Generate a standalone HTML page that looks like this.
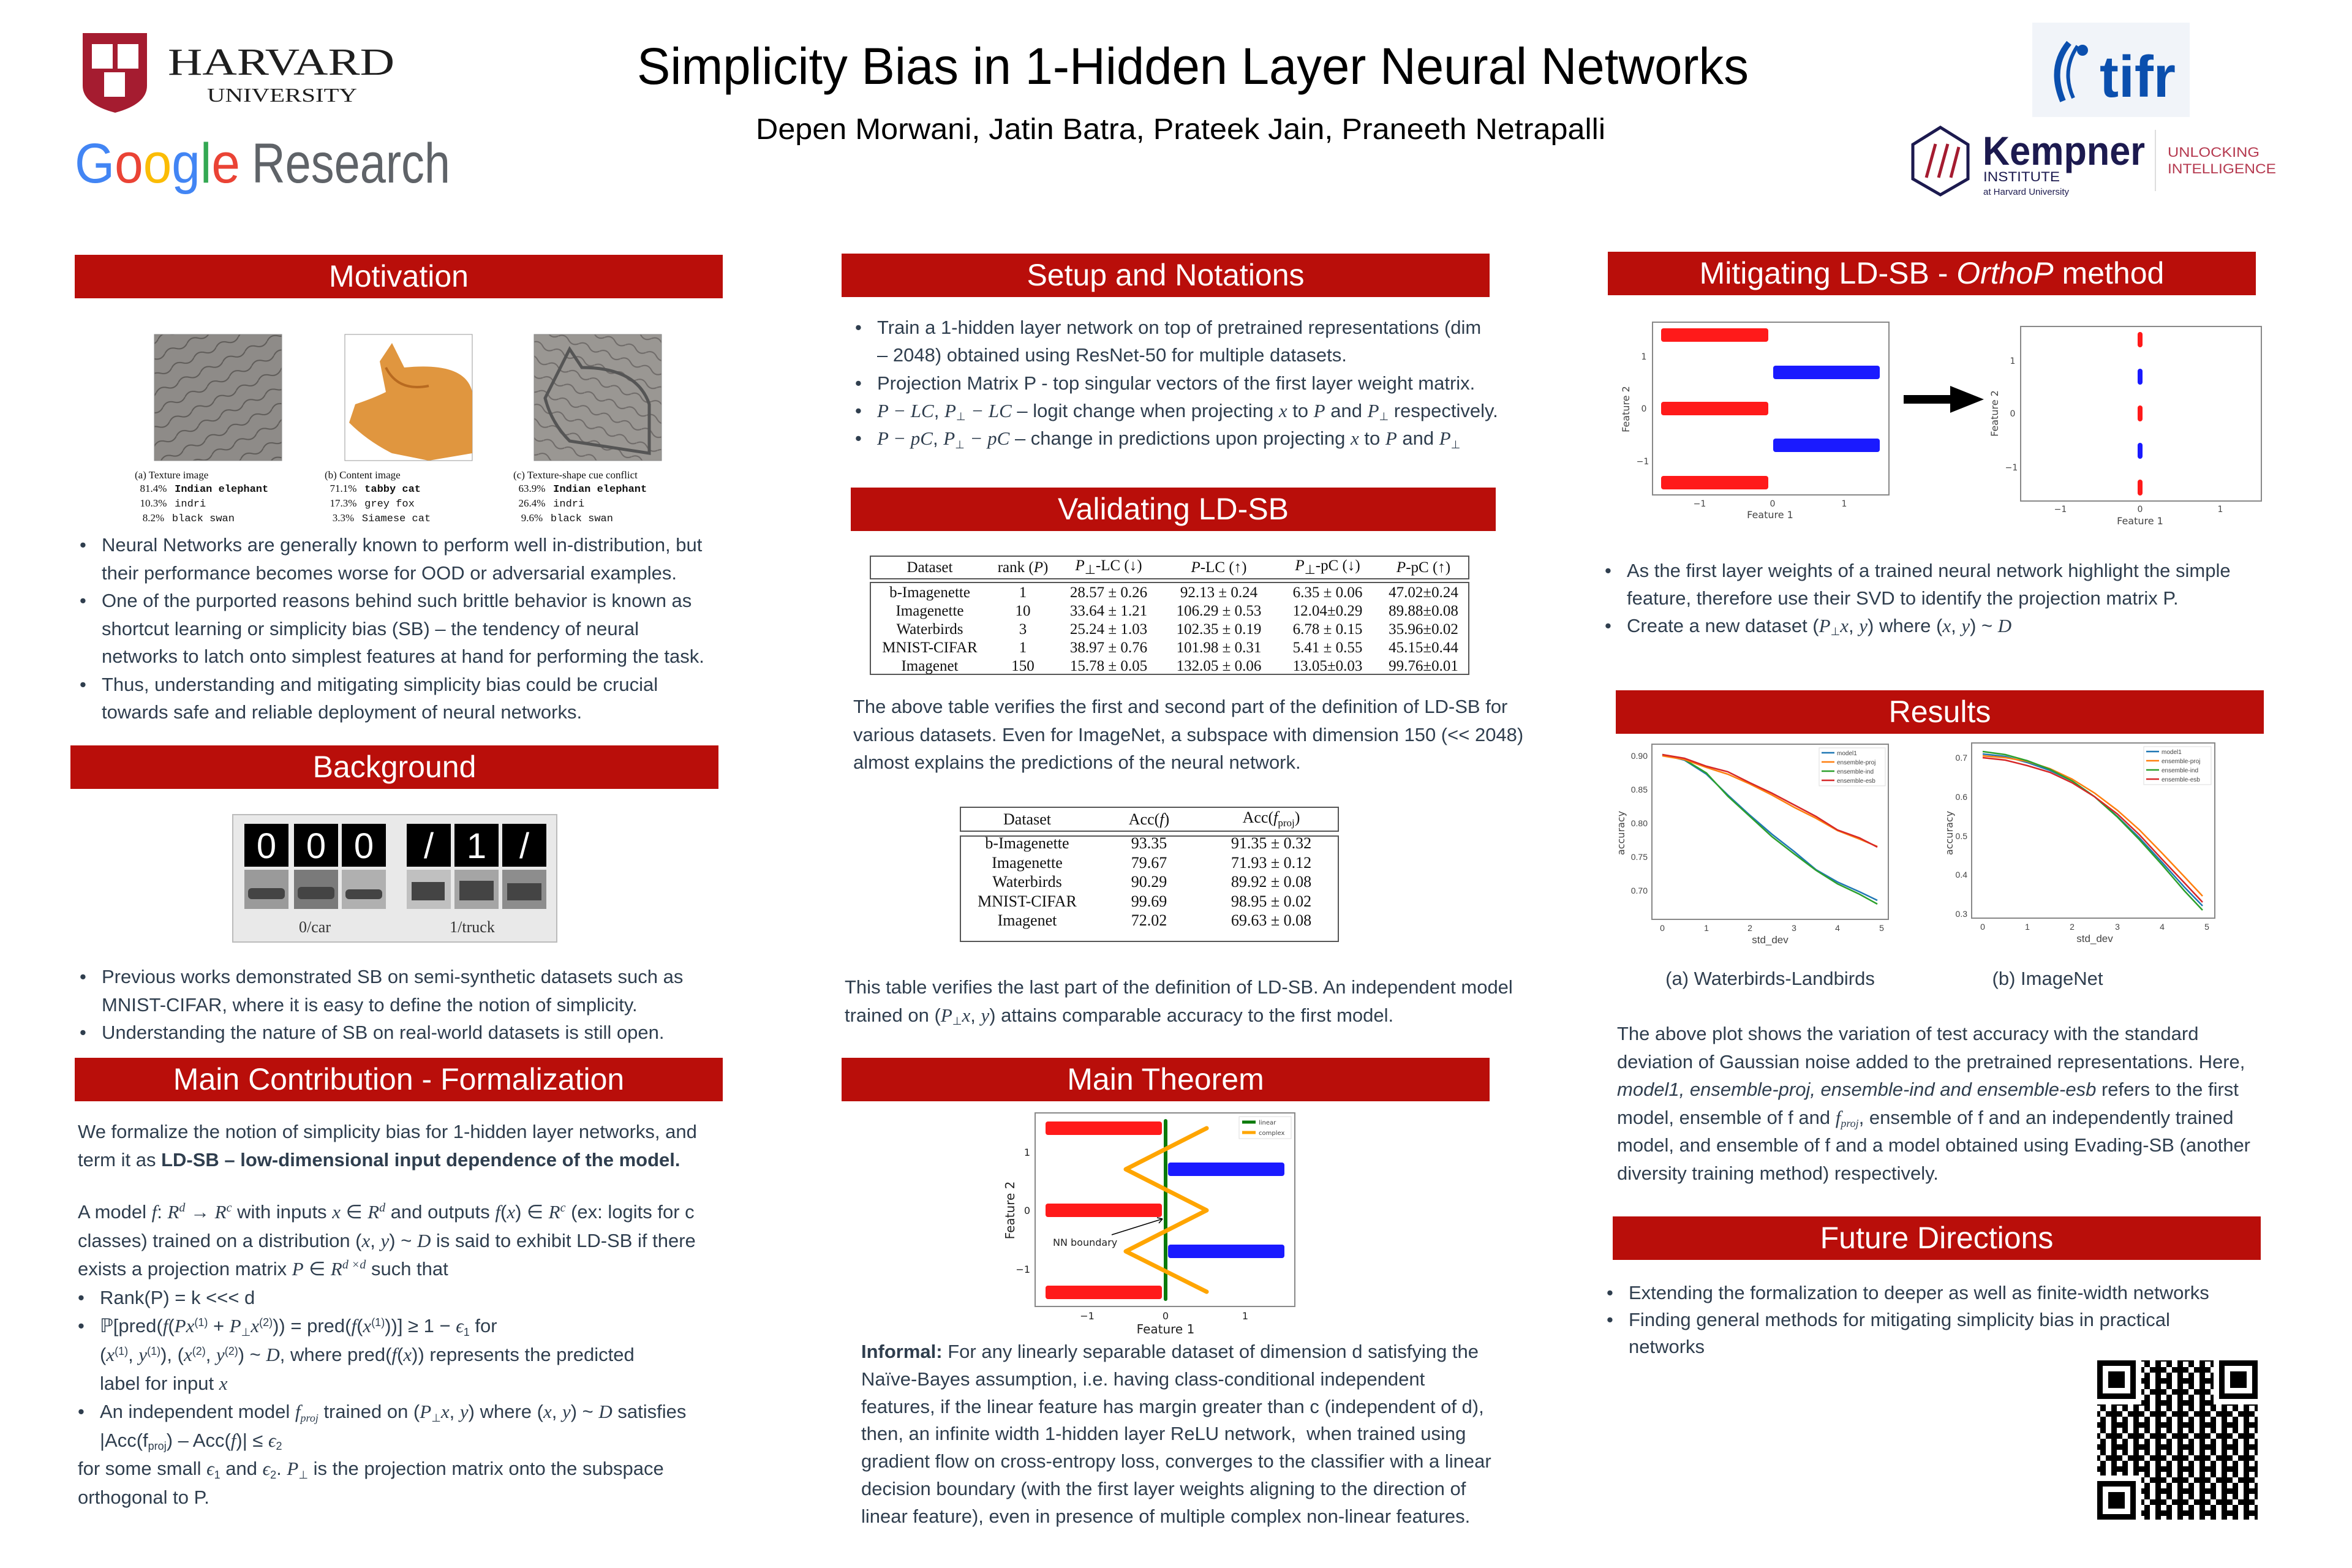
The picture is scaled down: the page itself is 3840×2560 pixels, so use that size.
<!DOCTYPE html>
<html><head><meta charset="utf-8"><style>
*{margin:0;padding:0;box-sizing:border-box}
body{width:3840px;height:2560px;background:#fff;position:relative;overflow:hidden;font-family:"Liberation Sans",sans-serif}
.t{position:absolute;font-size:31px;line-height:45.5px;color:#2f3e4e;white-space:nowrap}
.t sup{line-height:0;vertical-align:0;position:relative;top:-0.55em}
.t sub{line-height:0;vertical-align:0;position:relative;top:0.3em}
.b{position:relative;padding-left:36px}
.b:before{content:"•";position:absolute;left:0}
.h{position:absolute;background:#b90e0a;color:#fff;font-size:50px;text-align:center;height:71px;line-height:71px;width:1058px}
.m{font-family:"Liberation Serif",serif;font-style:italic}
.cap{position:absolute;font-family:"Liberation Serif",serif;font-size:17px;line-height:22px;color:#111;white-space:pre}
.mono{font-family:"Liberation Mono",monospace}
table{border-collapse:collapse}
</style></head><body>

<svg width="3840" height="2560" style="position:absolute;left:0;top:0">
<path d="M135 54 H240 V140 Q240 170 188 184 Q135 170 135 140 Z" fill="#a51c30"/>
<rect x="150" y="72" width="34" height="40" fill="#fff"/><rect x="192" y="72" width="34" height="40" fill="#fff"/>
<rect x="170" y="118" width="34" height="40" fill="#fff"/>
<text x="274" y="122" font-family="Liberation Serif" font-size="62" fill="#1e1e1e" textLength="370" lengthAdjust="spacingAndGlyphs">HARVARD</text>
<text x="338" y="166" font-family="Liberation Serif" font-size="32" fill="#1e1e1e" textLength="245" lengthAdjust="spacingAndGlyphs">UNIVERSITY</text>
<text x="122" y="298" font-family="Liberation Sans" font-size="92" textLength="270" lengthAdjust="spacingAndGlyphs"><tspan fill="#4285F4">G</tspan><tspan fill="#EA4335">o</tspan><tspan fill="#FBBC05">o</tspan><tspan fill="#4285F4">g</tspan><tspan fill="#34A853">l</tspan><tspan fill="#EA4335">e</tspan></text>
<text x="411" y="298" font-family="Liberation Sans" font-size="92" fill="#5f6368" textLength="324" lengthAdjust="spacingAndGlyphs">Research</text>
<rect x="3318" y="37" width="257" height="154" fill="#f1f4f9"/>
<path d="M3378 70 Q3345 110 3368 165" stroke="#0b4fae" stroke-width="10" fill="none"/>
<path d="M3392 75 Q3365 115 3385 160" stroke="#0b4fae" stroke-width="6" fill="none"/>
<circle cx="3400" cy="82" r="9" fill="#0b4fae"/>
<text x="3428" y="158" font-family="Liberation Sans" font-weight="bold" font-size="96" fill="#0b4fae" textLength="124" lengthAdjust="spacingAndGlyphs">tifr</text>
<path d="M3168 208 L3213 236 L3213 292 L3168 318 L3123 292 L3123 236 Z" fill="none" stroke="#1c1a4f" stroke-width="5"/>
<path d="M3145 290 L3160 235 M3165 290 L3180 235 M3185 290 L3198 240" stroke="#a51c30" stroke-width="5"/>
<text x="3237" y="269" font-family="Liberation Sans" font-weight="bold" font-size="66" fill="#1c1a4f" textLength="265" lengthAdjust="spacingAndGlyphs">Kempner</text>
<text x="3238" y="296" font-family="Liberation Sans" font-size="22" fill="#1c1a4f" textLength="125" lengthAdjust="spacingAndGlyphs">INSTITUTE</text>
<text x="3238" y="318" font-family="Liberation Sans" font-size="15" fill="#1c1a4f">at Harvard University</text>
<rect x="3518" y="212" width="2" height="100" fill="#ddd"/>
<text x="3539" y="256" font-family="Liberation Sans" font-size="22" fill="#b5394f" textLength="150" lengthAdjust="spacingAndGlyphs">UNLOCKING</text>
<text x="3539" y="283" font-family="Liberation Sans" font-size="22" fill="#b5394f" textLength="177" lengthAdjust="spacingAndGlyphs">INTELLIGENCE</text>
<text x="1040" y="137" font-family="Liberation Sans" font-size="84" fill="#000" textLength="1815" lengthAdjust="spacingAndGlyphs">Simplicity Bias in 1-Hidden Layer Neural Networks</text>
<text x="1234" y="227" font-family="Liberation Sans" font-size="48" fill="#000" textLength="1387" lengthAdjust="spacingAndGlyphs">Depen Morwani, Jatin Batra, Prateek Jain, Praneeth Netrapalli</text>

<defs>
<pattern id="skin" width="40" height="26" patternUnits="userSpaceOnUse" patternTransform="rotate(-25)">
<rect width="40" height="26" fill="#8e8b88"/><path d="M0 13 Q10 5 20 13 T40 13" stroke="#5e5b58" stroke-width="2" fill="none"/></pattern>
<pattern id="skin2" width="36" height="24" patternUnits="userSpaceOnUse" patternTransform="rotate(20)">
<rect width="36" height="24" fill="#9a9793"/><path d="M0 12 Q9 4 18 12 T36 12" stroke="#6e6a68" stroke-width="2" fill="none"/></pattern>
<pattern id="qr" width="36" height="36" patternUnits="userSpaceOnUse">
<rect width="36" height="36" fill="#fff"/>
<rect x="0" y="0" width="9" height="9" fill="#000"/><rect x="18" y="0" width="18" height="9" fill="#000"/>
<rect x="9" y="9" width="9" height="9" fill="#000"/><rect x="27" y="9" width="9" height="18" fill="#000"/>
<rect x="0" y="18" width="18" height="9" fill="#000"/><rect x="9" y="27" width="9" height="9" fill="#000"/><rect x="27" y="27" width="9" height="9" fill="#000"/></pattern>
</defs>
<rect x="252" y="546" width="208" height="206" fill="url(#skin)" stroke="#888"/>
<rect x="563" y="546" width="208" height="206" fill="#fff" stroke="#999"/>
<path d="M620 590 L640 560 L660 600 Q760 590 771 640 L771 740 L700 752 L640 740 Q600 720 570 690 L580 660 Q610 650 630 640 Z" fill="#e0963f"/>
<path d="M630 600 Q650 640 700 630" stroke="#b86a20" stroke-width="4" fill="none"/>
<rect x="872" y="546" width="208" height="206" fill="url(#skin2)" stroke="#888"/>
<path d="M930 570 L950 600 Q1040 600 1060 660 L1060 740 L930 720 Q900 690 890 650 Z" fill="none" stroke="#555" stroke-width="5"/>

<rect x="380" y="1330" width="529" height="208" fill="#e9e9e9" stroke="#bbb" stroke-width="2"/>
<g font-family="Liberation Sans" font-size="58" fill="#fff" text-anchor="middle">
<rect x="399" y="1345" width="72" height="70" fill="#000"/><text x="435" y="1401">0</text>
<rect x="480" y="1345" width="72" height="70" fill="#000"/><text x="516" y="1401">0</text>
<rect x="558" y="1345" width="72" height="70" fill="#000"/><text x="594" y="1401">0</text>
<rect x="664" y="1345" width="72" height="70" fill="#000"/><text x="700" y="1401">/</text>
<rect x="742" y="1345" width="72" height="70" fill="#000"/><text x="778" y="1401">1</text>
<rect x="820" y="1345" width="72" height="70" fill="#000"/><text x="856" y="1401">/</text>
</g>
<g fill="#9a9a9a"><rect x="399" y="1420" width="72" height="64"/><rect x="480" y="1420" width="72" height="64" fill="#7a7a7a"/><rect x="558" y="1420" width="72" height="64" fill="#b0b0b0"/>
<rect x="664" y="1420" width="72" height="64" fill="#c0c0c0"/><rect x="742" y="1420" width="72" height="64" fill="#a5a5a5"/><rect x="820" y="1420" width="72" height="64" fill="#8d8d8d"/></g>
<g fill="#444"><rect x="405" y="1450" width="60" height="18" rx="6"/><rect x="486" y="1448" width="60" height="20" rx="6"/><rect x="564" y="1452" width="60" height="16" rx="6"/>
<rect x="672" y="1440" width="54" height="30"/><rect x="750" y="1438" width="56" height="32"/><rect x="828" y="1442" width="56" height="28"/></g>
<g font-family="Liberation Serif" font-size="26" fill="#333" text-anchor="middle"><text x="514" y="1522">0/car</text><text x="771" y="1522">1/truck</text></g>

<rect x="1421" y="908" width="977" height="37" fill="none" stroke="#555" stroke-width="2"/>
<rect x="1421" y="951" width="977" height="150" fill="none" stroke="#555" stroke-width="2"/>
<rect x="1568" y="1318" width="617" height="39" fill="none" stroke="#555" stroke-width="2"/>
<rect x="1568" y="1365" width="617" height="172" fill="none" stroke="#555" stroke-width="2"/>

<rect x="1690" y="1817" width="424" height="316" fill="#fff" stroke="#888" stroke-width="2"/>
<g fill="#ff1a1a"><rect x="1707" y="1831" width="190" height="22" rx="4"/><rect x="1707" y="1965" width="190" height="22" rx="4"/><rect x="1707" y="2099" width="190" height="22" rx="4"/></g>
<g fill="#1a1aff"><rect x="1907" y="1898" width="190" height="22" rx="4"/><rect x="1907" y="2032" width="190" height="22" rx="4"/></g>
<line x1="1903" y1="1830" x2="1903" y2="2121" stroke="#0a7a0a" stroke-width="6" stroke-linecap="round"/>
<polyline points="1970,1842 1838,1909 1970,1976 1838,2043 1970,2109" fill="none" stroke="#ffa500" stroke-width="7" stroke-linecap="round" stroke-linejoin="round"/>
<rect x="2023" y="1823" width="85" height="36" fill="#fff" stroke="#ddd"/>
<line x1="2028" y1="1832" x2="2050" y2="1832" stroke="#0a7a0a" stroke-width="5"/><line x1="2028" y1="1849" x2="2050" y2="1849" stroke="#ffa500" stroke-width="5"/>
<g font-family="DejaVu Sans" font-size="10" fill="#444"><text x="2055" y="1836">linear</text><text x="2055" y="1853">complex</text></g>
<line x1="1815" y1="2016" x2="1898" y2="1990" stroke="#000" stroke-width="1.5"/><path d="M1898 1990 L1889 1988 M1898 1990 L1892 1997" stroke="#000" stroke-width="1.5"/>
<g font-family="DejaVu Sans" fill="#222"><text x="1719" y="2034" font-size="16">NN boundary</text>
<g font-size="16" text-anchor="end"><text x="1682" y="1887">1</text><text x="1682" y="1982">0</text><text x="1682" y="2078">−1</text></g>
<g font-size="16" text-anchor="middle"><text x="1775" y="2154">−1</text><text x="1903" y="2154">0</text><text x="2033" y="2154">1</text>
<text x="1903" y="2177" font-size="20">Feature 1</text>
<text transform="translate(1656,1976) rotate(-90)" font-size="20">Feature 2</text></g></g>

<rect x="2698" y="526" width="386" height="282" fill="#fff" stroke="#888" stroke-width="2"/>
<g fill="#ff1a1a"><rect x="2712" y="536" width="175" height="22" rx="4"/><rect x="2712" y="656" width="175" height="22" rx="4"/><rect x="2712" y="777" width="175" height="22" rx="4"/></g>
<g fill="#1a1aff"><rect x="2895" y="597" width="174" height="22" rx="4"/><rect x="2895" y="716" width="174" height="22" rx="4"/></g>
<g font-family="DejaVu Sans" fill="#444" font-size="14" text-anchor="middle">
<text x="2684" y="587">1</text><text x="2684" y="672">0</text><text x="2682" y="758">−1</text>
<text x="2775" y="827">−1</text><text x="2894" y="827">0</text><text x="3011" y="827">1</text>
<text x="2890" y="846" font-size="16">Feature 1</text>
<text transform="translate(2660,668) rotate(-90)" font-size="16">Feature 2</text>
<text x="3286" y="594">1</text><text x="3286" y="680">0</text><text x="3284" y="768">−1</text>
<text x="3364" y="836">−1</text><text x="3494" y="836">0</text><text x="3625" y="836">1</text>
<text x="3494" y="856" font-size="16">Feature 1</text>
<text transform="translate(3262,675) rotate(-90)" font-size="16">Feature 2</text></g>
<path d="M3108 645 H3184 V630 L3239 652 L3184 674 V659 H3108 Z" fill="#000"/>
<rect x="3299" y="533" width="393" height="285" fill="#fff" stroke="#888" stroke-width="2"/>
<g stroke-width="8" stroke-linecap="round"><line x1="3494" y1="546" x2="3494" y2="563" stroke="#ff1a1a"/><line x1="3494" y1="606" x2="3494" y2="624" stroke="#1a1aff"/>
<line x1="3494" y1="666" x2="3494" y2="684" stroke="#ff1a1a"/><line x1="3494" y1="727" x2="3494" y2="745" stroke="#1a1aff"/><line x1="3494" y1="787" x2="3494" y2="805" stroke="#ff1a1a"/></g>

<rect x="2697" y="1215" width="386" height="286" fill="#fff" stroke="#888" stroke-width="2"/>
<g fill="none" stroke-width="2.5">
<polyline stroke="#1f77b4" points="2714,1232 2750,1241 2786,1264 2821,1298 2857,1331 2893,1362 2929,1390 2965,1420 3000,1440 3036,1456 3065,1470"/>
<polyline stroke="#2ca02c" points="2714,1232 2750,1240 2786,1262 2821,1300 2857,1333 2893,1366 2929,1394 2965,1421 3000,1443 3036,1460 3065,1476"/>
<polyline stroke="#ff7f0e" points="2714,1234 2750,1240 2786,1253 2821,1264 2857,1280 2893,1298 2929,1318 2965,1336 3000,1356 3036,1370 3065,1382"/>
<polyline stroke="#d62728" points="2714,1232 2750,1238 2786,1251 2821,1260 2857,1278 2893,1295 2929,1314 2965,1333 3000,1355 3036,1368 3065,1383"/>
</g>
<rect x="2970" y="1221" width="108" height="62" fill="#fff" stroke="#ddd"/>
<g stroke-width="2.5"><line x1="2974" y1="1229" x2="2995" y2="1229" stroke="#1f77b4"/><line x1="2974" y1="1244" x2="2995" y2="1244" stroke="#ff7f0e"/><line x1="2974" y1="1259" x2="2995" y2="1259" stroke="#2ca02c"/><line x1="2974" y1="1274" x2="2995" y2="1274" stroke="#d62728"/></g>
<g font-family="Liberation Sans" font-size="10" fill="#444"><text x="2999" y="1233">model1</text><text x="2999" y="1248">ensemble-proj</text><text x="2999" y="1263">ensemble-ind</text><text x="2999" y="1278">ensemble-esb</text></g>
<rect x="3219" y="1213" width="397" height="286" fill="#fff" stroke="#888" stroke-width="2"/>
<g fill="none" stroke-width="2.5">
<polyline stroke="#1f77b4" points="3237,1231 3274,1235 3310,1245 3347,1258 3383,1275 3420,1301 3457,1333 3493,1368 3530,1408 3566,1448 3596,1479"/>
<polyline stroke="#ff7f0e" points="3237,1234 3274,1237 3310,1243 3347,1255 3383,1272 3420,1295 3457,1323 3493,1355 3530,1393 3566,1431 3596,1463"/>
<polyline stroke="#2ca02c" points="3237,1227 3274,1232 3310,1242 3347,1256 3383,1275 3420,1301 3457,1334 3493,1371 3530,1412 3566,1454 3596,1486"/>
<polyline stroke="#d62728" points="3237,1237 3274,1241 3310,1250 3347,1261 3383,1278 3420,1301 3457,1329 3493,1363 3530,1403 3566,1441 3596,1473"/>
</g>
<rect x="3500" y="1219" width="110" height="62" fill="#fff" stroke="#ddd"/>
<g stroke-width="2.5"><line x1="3504" y1="1227" x2="3525" y2="1227" stroke="#1f77b4"/><line x1="3504" y1="1242" x2="3525" y2="1242" stroke="#ff7f0e"/><line x1="3504" y1="1257" x2="3525" y2="1257" stroke="#2ca02c"/><line x1="3504" y1="1272" x2="3525" y2="1272" stroke="#d62728"/></g>
<g font-family="Liberation Sans" font-size="10" fill="#444"><text x="3529" y="1231">model1</text><text x="3529" y="1246">ensemble-proj</text><text x="3529" y="1261">ensemble-ind</text><text x="3529" y="1276">ensemble-esb</text></g>
<g font-family="Liberation Sans" font-size="14" fill="#444" text-anchor="end">
<text x="2690" y="1239">0.90</text><text x="2690" y="1294">0.85</text><text x="2690" y="1349">0.80</text><text x="2690" y="1404">0.75</text><text x="2690" y="1459">0.70</text>
<text x="3212" y="1242">0.7</text><text x="3212" y="1306">0.6</text><text x="3212" y="1370">0.5</text><text x="3212" y="1433">0.4</text><text x="3212" y="1497">0.3</text></g>
<g font-family="Liberation Sans" font-size="14" fill="#444" text-anchor="middle">
<text x="2714" y="1520">0</text><text x="2786" y="1520">1</text><text x="2857" y="1520">2</text><text x="2929" y="1520">3</text><text x="3000" y="1520">4</text><text x="3072" y="1520">5</text>
<text x="3237" y="1518">0</text><text x="3310" y="1518">1</text><text x="3383" y="1518">2</text><text x="3457" y="1518">3</text><text x="3530" y="1518">4</text><text x="3603" y="1518">5</text>
<text x="2890" y="1540" font-size="17">std_dev</text><text x="3420" y="1538" font-size="17">std_dev</text>
<text transform="translate(2652,1360) rotate(-90)" font-family="DejaVu Sans" font-size="16">accuracy</text>
<text transform="translate(3188,1360) rotate(-90)" font-family="DejaVu Sans" font-size="16">accuracy</text></g>

<rect x="3424" y="2221" width="262" height="260" fill="url(#qr)"/>
<g fill="#fff"><rect x="3424" y="2221" width="72" height="72"/><rect x="3614" y="2221" width="72" height="72"/><rect x="3424" y="2409" width="72" height="72"/></g>
<g fill="none" stroke="#000" stroke-width="9"><rect x="3428.5" y="2225.5" width="54" height="54"/><rect x="3627.5" y="2225.5" width="54" height="54"/><rect x="3428.5" y="2422.5" width="54" height="54"/></g>
<g fill="#000"><rect x="3442" y="2239" width="27" height="27"/><rect x="3641" y="2239" width="27" height="27"/><rect x="3442" y="2436" width="27" height="27"/></g>
</svg>

<div class="h" style="left:122px;top:416px">Motivation</div>
<div class="h" style="left:1374px;top:414px">Setup and Notations</div>
<div class="h" style="left:2625px;top:411px">Mitigating LD-SB - <i>OrthoP</i> method</div>
<div class="h" style="left:1389px;top:796px;width:1053px">Validating LD-SB</div>
<div class="h" style="left:115px;top:1217px">Background</div>
<div class="h" style="left:2638px;top:1127px">Results</div>
<div class="h" style="left:122px;top:1727px">Main Contribution - Formalization</div>
<div class="h" style="left:1374px;top:1727px">Main Theorem</div>
<div class="h" style="left:2633px;top:1986px">Future Directions</div>

<div class="cap" style="left:220px;top:765px">(a) Texture image
  81.4%   <b class="mono">Indian elephant</b>
  10.3%   <span class="mono">indri</span>
   8.2%   <span class="mono">black swan</span></div>
<div class="cap" style="left:530px;top:765px">(b) Content image
  71.1%   <b class="mono">tabby cat</b>
  17.3%   <span class="mono">grey fox</span>
   3.3%   <span class="mono">Siamese cat</span></div>
<div class="cap" style="left:838px;top:765px">(c) Texture-shape cue conflict
  63.9%   <b class="mono">Indian elephant</b>
  26.4%   <span class="mono">indri</span>
   9.6%   <span class="mono">black swan</span></div>

<div class="t" style="left:130px;top:867px">
<div class="b">Neural Networks are generally known to perform well in-distribution, but<br>their performance becomes worse for OOD or adversarial examples.</div>
<div class="b">One of the purported reasons behind such brittle behavior is known as<br>shortcut learning or simplicity bias (SB) – the tendency of neural<br>networks to latch onto simplest features at hand for performing the task.</div>
<div class="b">Thus, understanding and mitigating simplicity bias could be crucial<br>towards safe and reliable deployment of neural networks.</div>
</div>

<div class="t" style="left:130px;top:1572px">
<div class="b">Previous works demonstrated SB on semi-synthetic datasets such as<br>MNIST-CIFAR, where it is easy to define the notion of simplicity.</div>
<div class="b">Understanding the nature of SB on real-world datasets is still open.</div>
</div>

<div class="t" style="left:127px;top:1825px">We formalize the notion of simplicity bias for 1-hidden layer networks, and<br>term it as <b>LD-SB – low-dimensional input dependence of the model.</b></div>
<div class="t" style="left:127px;top:1956px;line-height:46.6px">A model <span class="m">f</span>: <span class="m">R<sup style="font-size:20px">d</sup></span> → <span class="m">R<sup style="font-size:20px">c</sup></span> with inputs <span class="m">x</span> ∈ <span class="m">R<sup style="font-size:20px">d</sup></span> and outputs <span class="m">f</span>(<span class="m">x</span>) ∈ <span class="m">R<sup style="font-size:20px">c</sup></span> (ex: logits for c<br>classes) trained on a distribution (<span class="m">x</span>, <span class="m">y</span>) ~ <span class="m">D</span> is said to exhibit LD-SB if there<br>exists a projection matrix <span class="m">P</span> ∈ <span class="m">R<sup style="font-size:20px">d ×d</sup></span> such that
<div class="b">Rank(P) = k &lt;&lt;&lt; d</div>
<div class="b">ℙ[pred(<span class="m">f</span>(<span class="m">Px</span><sup style="font-size:18px">(1)</sup> + <span class="m">P</span><sub style="font-size:18px">⊥</sub><span class="m">x</span><sup style="font-size:18px">(2)</sup>)) = pred(<span class="m">f</span>(<span class="m">x</span><sup style="font-size:18px">(1)</sup>))] ≥ 1 − <span class="m">ϵ</span><sub style="font-size:18px">1</sub> for<br>(<span class="m">x</span><sup style="font-size:18px">(1)</sup>, <span class="m">y</span><sup style="font-size:18px">(1)</sup>), (<span class="m">x</span><sup style="font-size:18px">(2)</sup>, <span class="m">y</span><sup style="font-size:18px">(2)</sup>) ~ <span class="m">D</span>, where pred(<span class="m">f</span>(<span class="m">x</span>)) represents the predicted<br>label for input <span class="m">x</span></div>
<div class="b">An independent model <span class="m">f<sub style="font-size:18px">proj</sub></span> trained on (<span class="m">P</span><sub style="font-size:18px">⊥</sub><span class="m">x</span>, <span class="m">y</span>) where (<span class="m">x</span>, <span class="m">y</span>) ~ <span class="m">D</span> satisfies<br>|Acc(f<sub style="font-size:18px">proj</sub>) – Acc(<span class="m">f</span>)| ≤ <span class="m">ϵ</span><sub style="font-size:18px">2</sub></div>
for some small <span class="m">ϵ</span><sub style="font-size:18px">1</sub> and <span class="m">ϵ</span><sub style="font-size:18px">2</sub>. <span class="m">P</span><sub style="font-size:18px">⊥</sub> is the projection matrix onto the subspace<br>orthogonal to P.</div>

<div class="t" style="left:1396px;top:512px;line-height:45.3px">
<div class="b">Train a 1-hidden layer network on top of pretrained representations (dim<br>– 2048) obtained using ResNet-50 for multiple datasets.</div>
<div class="b">Projection Matrix P - top singular vectors of the first layer weight matrix.</div>
<div class="b"><span class="m">P − LC</span>, <span class="m">P</span><sub style="font-size:18px">⊥</sub> <span class="m">− LC</span> – logit change when projecting <span class="m">x</span> to <span class="m">P</span> and <span class="m">P</span><sub style="font-size:18px">⊥</sub> respectively.</div>
<div class="b"><span class="m">P − pC</span>, <span class="m">P</span><sub style="font-size:18px">⊥</sub> <span class="m">− pC</span> – change in predictions upon projecting <span class="m">x</span> to <span class="m">P</span> and <span class="m">P</span><sub style="font-size:18px">⊥</sub></div>
</div>

<div style="position:absolute;left:1421px;top:908px;width:977px;font-family:'Liberation Serif',serif;font-size:25px;color:#111">
<table style="width:977px;text-align:center"><tr style="height:37px"><td style="width:194px">Dataset</td><td style="width:110px">rank (<i>P</i>)</td><td style="width:170px"><i>P</i><sub>⊥</sub>-LC (↓)</td><td style="width:190px"><i>P</i>-LC (↑)</td><td style="width:165px"><i>P</i><sub>⊥</sub>-pC (↓)</td><td><i>P</i>-pC (↑)</td></tr></table>
<table style="width:977px;text-align:center;margin-top:8px;line-height:30px">
<tr><td style="width:194px">b-Imagenette</td><td style="width:110px">1</td><td style="width:170px">28.57 ± 0.26</td><td style="width:190px">92.13 ± 0.24</td><td style="width:165px">6.35 ± 0.06</td><td>47.02±0.24</td></tr>
<tr><td>Imagenette</td><td>10</td><td>33.64 ± 1.21</td><td>106.29 ± 0.53</td><td>12.04±0.29</td><td>89.88±0.08</td></tr>
<tr><td>Waterbirds</td><td>3</td><td>25.24 ± 1.03</td><td>102.35 ± 0.19</td><td>6.78 ± 0.15</td><td>35.96±0.02</td></tr>
<tr><td>MNIST-CIFAR</td><td>1</td><td>38.97 ± 0.76</td><td>101.98 ± 0.31</td><td>5.41 ± 0.55</td><td>45.15±0.44</td></tr>
<tr><td>Imagenet</td><td>150</td><td>15.78 ± 0.05</td><td>132.05 ± 0.06</td><td>13.05±0.03</td><td>99.76±0.01</td></tr></table></div>

<div class="t" style="left:1393px;top:1131px">The above table verifies the first and second part of the definition of LD-SB for<br>various datasets. Even for ImageNet, a subspace with dimension 150 (&lt;&lt; 2048)<br>almost explains the predictions of the neural network.</div>

<div style="position:absolute;left:1568px;top:1318px;width:617px;font-family:'Liberation Serif',serif;font-size:26px;color:#111">
<table style="width:617px;text-align:center"><tr style="height:39px"><td style="width:218px">Dataset</td><td style="width:180px">Acc(<i>f</i>)</td><td>Acc(<i>f</i><sub style="font-size:17px">proj</sub>)</td></tr></table>
<table style="width:617px;text-align:center;margin-top:4px;line-height:31.5px">
<tr><td style="width:218px">b-Imagenette</td><td style="width:180px">93.35</td><td>91.35 ± 0.32</td></tr>
<tr><td>Imagenette</td><td>79.67</td><td>71.93 ± 0.12</td></tr>
<tr><td>Waterbirds</td><td>90.29</td><td>89.92 ± 0.08</td></tr>
<tr><td>MNIST-CIFAR</td><td>99.69</td><td>98.95 ± 0.02</td></tr>
<tr><td>Imagenet</td><td>72.02</td><td>69.63 ± 0.08</td></tr></table></div>

<div class="t" style="left:1379px;top:1589px;line-height:46px">This table verifies the last part of the definition of LD-SB. An independent model<br>trained on (<span class="m">P</span><sub style="font-size:18px">⊥</sub><span class="m">x</span>, <span class="m">y</span>) attains comparable accuracy to the first model.</div>

<div class="t" style="left:1406px;top:2185px;line-height:44.8px"><b>Informal:</b> For any linearly separable dataset of dimension d satisfying the<br>Naïve-Bayes assumption, i.e. having class-conditional independent<br>features, if the linear feature has margin greater than c (independent of d),<br>then, an infinite width 1-hidden layer ReLU network,&nbsp; when trained using<br>gradient flow on cross-entropy loss, converges to the classifier with a linear<br>decision boundary (with the first layer weights aligning to the direction of<br>linear feature), even in presence of multiple complex non-linear features.</div>

<div class="t" style="left:2620px;top:909px;line-height:45px">
<div class="b">As the first layer weights of a trained neural network highlight the simple<br>feature, therefore use their SVD to identify the projection matrix P.</div>
<div class="b">Create a new dataset (<span class="m">P</span><sub style="font-size:18px">⊥</sub><span class="m">x</span>, <span class="m">y</span>) where (<span class="m">x</span>, <span class="m">y</span>) ~ <span class="m">D</span></div>
</div>

<div class="t" style="left:2890px;top:1575px;transform:translateX(-50%)">(a) Waterbirds-Landbirds</div>
<div class="t" style="left:3343px;top:1575px;transform:translateX(-50%)">(b) ImageNet</div>

<div class="t" style="left:2640px;top:1665px">The above plot shows the variation of test accuracy with the standard<br>deviation of Gaussian noise added to the pretrained representations. Here,<br><i>model1, ensemble-proj, ensemble-ind and ensemble-esb</i> refers to the first<br>model, ensemble of f and <span class="m">f<sub style="font-size:18px">proj</sub></span>, ensemble of f and an independently trained<br>model, and ensemble of f and a model obtained using Evading-SB (another<br>diversity training method) respectively.</div>

<div class="t" style="left:2623px;top:2089px;line-height:44px">
<div class="b">Extending the formalization to deeper as well as finite-width networks</div>
<div class="b">Finding general methods for mitigating simplicity bias in practical<br>networks</div>
</div>

</body></html>
